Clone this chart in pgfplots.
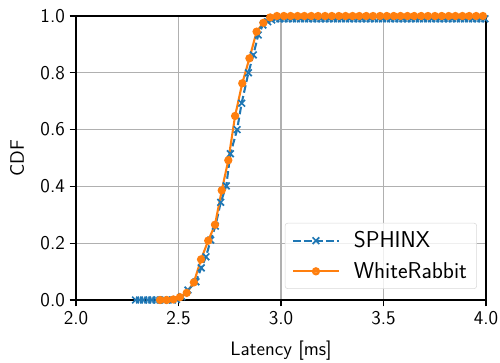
\documentclass[border=0pt]{standalone}
\usepackage{pgfplots}
\pgfplotsset{compat=1.18}
\definecolor{tabblue}{HTML}{1F77B4}
\definecolor{taborange}{HTML}{FF7F0E}
\definecolor{gridgray}{HTML}{B0B0B0}
\begin{document}
\begin{tikzpicture}[font=\sffamily\fontsize{14}{16.5}\selectfont]
\useasboundingbox (-54.72pt,-44.64pt) rectangle (305.28pt,216pt);
\begin{axis}[
  scale only axis,
  width=295.2pt, height=204.48pt,
  xmin=2.0, xmax=4.0, ymin=0, ymax=1.0,
  xtick={2.0,2.5,3.0,3.5,4.0},
  ytick={0,0.2,0.4,0.6,0.8,1.0},
  /pgf/number format/assume math mode=true,
  xticklabel style={/pgf/number format/.cd, fixed, fixed zerofill, precision=1},
  yticklabel style={/pgf/number format/.cd, fixed, fixed zerofill, precision=1},
  tick label style={font=\sffamily\fontsize{14}{16.5}\selectfont},
  label style={font=\sffamily\fontsize{14}{16.5}\selectfont},
  xlabel={Latency [ms]},
  ylabel={CDF},
  grid=major,
  major grid style={gridgray, line width=1pt},
  axis line style={black, line width=1pt},
  tick style={black, line width=1pt},
  tick align=outside,
  major tick length=4.5pt,
  xtick pos=bottom, ytick pos=left,
  xlabel style={yshift=-5pt},
  ylabel style={yshift=5pt},
  legend style={at={(rel axis cs:0.978,0.039)}, anchor=south east,
    draw=black!15, fill=white, fill opacity=0.8, text opacity=1,
    rounded corners=2pt, inner xsep=5pt, inner ysep=4pt, row sep=5pt,
    font=\sffamily\fontsize{16.5}{19}\selectfont},
  legend cell align=left,
  legend image code/.code={\draw[#1, mark repeat=2, mark phase=2] plot coordinates {(0pt,0pt) (16.5pt,0pt) (33pt,0pt)}; \path (41pt,0pt);},
]
\addplot[color=tabblue, line width=1.5pt, dash pattern=on 5.5pt off 2.4pt,
  mark=x, mark size=3.4pt, mark options={solid, line width=1.2pt}] table {
x y
2.29 0.0
2.31 0.0
2.33 0.0
2.35 0.0
2.37 0.0
2.39 0.0
2.41 0.0
2.43 0.0
2.45 0.0
2.47 0.0
2.49 0.002
2.516 0.012
2.546 0.035
2.585 0.064
2.611 0.113
2.634 0.152
2.657 0.211
2.680 0.260
2.706 0.344
2.733 0.402
2.753 0.515
2.786 0.600
2.808 0.693
2.841 0.800
2.865 0.863
2.889 0.933
2.912 0.968
2.935 0.980
2.955 0.986
2.975 0.99
2.995 0.99
3.015 0.99
3.035 0.99
3.055 0.99
3.075 0.99
3.095 0.99
3.115 0.99
3.135 0.99
3.155 0.99
3.175 0.99
3.195 0.99
3.215 0.99
3.235 0.99
3.255 0.99
3.275 0.99
3.295 0.99
3.315 0.99
3.335 0.99
3.355 0.99
3.375 0.99
3.395 0.99
3.415 0.99
3.435 0.99
3.455 0.99
3.475 0.99
3.495 0.99
3.515 0.99
3.535 0.99
3.555 0.99
3.575 0.99
3.595 0.99
3.615 0.99
3.635 0.99
3.655 0.99
3.675 0.99
3.695 0.99
3.715 0.99
3.735 0.99
3.755 0.99
3.775 0.99
3.795 0.99
3.815 0.99
3.835 0.99
3.855 0.99
3.875 0.99
3.895 0.99
3.915 0.99
3.935 0.99
3.955 0.99
3.975 0.99
3.995 0.99
};
\addlegendentry{SPHINX}
\addplot[color=taborange, line width=1.5pt, mark=*, mark size=2.2pt,
  mark options={solid}] table {
x y
2.410 0.0
2.442 0.0
2.475 0.002
2.507 0.010
2.540 0.025
2.575 0.062
2.610 0.143
2.645 0.209
2.678 0.265
2.711 0.386
2.743 0.492
2.776 0.648
2.811 0.763
2.846 0.851
2.881 0.945
2.914 0.976
2.947 0.995
2.980 1.0
3.014 1.0
3.047 1.0
3.081 1.0
3.114 1.0
3.148 1.0
3.181 1.0
3.215 1.0
3.248 1.0
3.282 1.0
3.315 1.0
3.349 1.0
3.382 1.0
3.416 1.0
3.449 1.0
3.483 1.0
3.516 1.0
3.550 1.0
3.583 1.0
3.617 1.0
3.650 1.0
3.684 1.0
3.717 1.0
3.751 1.0
3.784 1.0
3.818 1.0
3.851 1.0
3.885 1.0
3.918 1.0
3.952 1.0
3.985 1.0
};
\addlegendentry{WhiteRabbit}
\end{axis}
\end{tikzpicture}
\end{document}
